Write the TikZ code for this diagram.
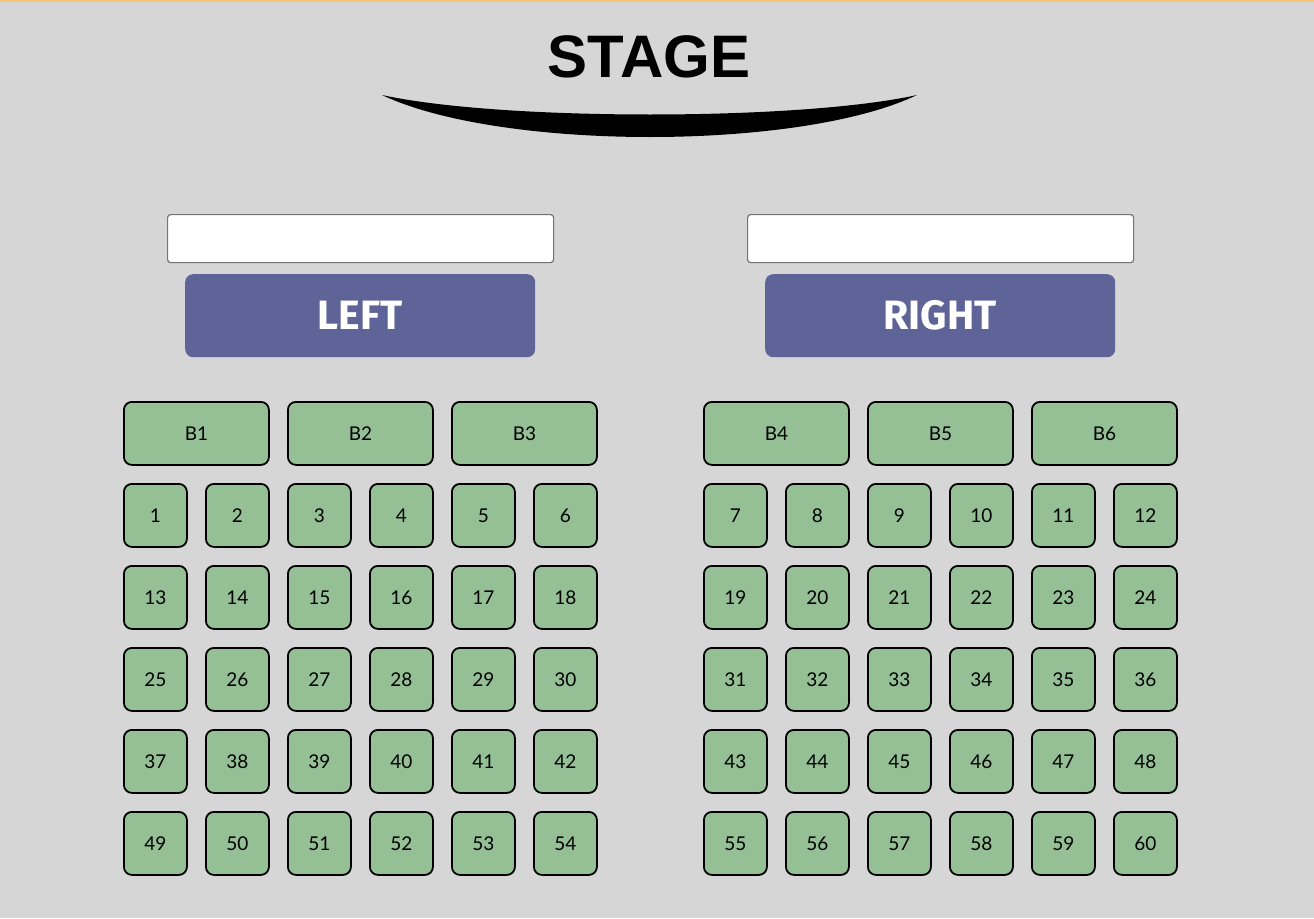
\documentclass[tikz,border=0pt]{standalone}
\usepackage{fontspec}
\setmainfont{Fira Sans}
\newfontfamily\stagefont{Liberation Sans}
\newfontfamily\seatfont{Lato}
\definecolor{bg}{HTML}{D6D6D6}
\definecolor{seatgreen}{HTML}{95C096}
\definecolor{btnblue}{HTML}{5E6497}
\definecolor{topline}{HTML}{F5C57A}
\begin{document}
\begin{tikzpicture}[x=1pt,y=-1pt,
  seat/.style={draw=black,line width=1.8pt,fill=seatgreen,rounded corners=8pt,
    minimum width=63pt,minimum height=63pt,inner sep=0pt,anchor=north west,
    font=\seatfont\fontsize{19}{21}\selectfont},
  box/.style={seat,minimum width=145pt},
  inbox/.style={draw=black!55,line width=1.2pt,fill=white,rounded corners=3pt,
    minimum width=386pt,minimum height=48pt,inner sep=0pt,anchor=north west},
  btn/.style={fill=btnblue,rounded corners=8pt,minimum width=350pt,minimum height=83pt,
    inner sep=0pt,anchor=north west,text=white,font=\fontsize{41}{43}\selectfont\bfseries}
]
\fill[bg] (0,0) rectangle (1314,918);
\useasboundingbox (0,0) rectangle (1314,918);
\fill[topline] (0,0) rectangle (1314,1.5);
% stage
\node[font=\stagefont\fontsize{60}{62}\selectfont\bfseries] (stage) at (649,57) {STAGE};
\fill[black] (382,95) .. controls (500,121) and (800,121) .. (917,95)
  .. controls (800,151) and (500,151) .. (382,95) -- cycle;
% inputs and buttons
\node[inbox] (inL) at (167,214) {};
\node[inbox] (inR) at (747,214) {};
\node[btn] (left) at (185,274) {LEFT};
\node[btn] (right) at (765,274) {RIGHT};
% boxes
\node[box] (B1) at (123,401) {B1};
\node[box] (B2) at (287,401) {B2};
\node[box] (B3) at (451,401) {B3};
\node[box] (B4) at (703,401) {B4};
\node[box] (B5) at (867,401) {B5};
\node[box] (B6) at (1031,401) {B6};
% seats
\foreach \r in {0,...,4}{
  \foreach \c in {0,...,5}{
    \pgfmathtruncatemacro{\nl}{\r*12+\c+1}
    \pgfmathtruncatemacro{\nr}{\r*12+\c+7}
    \node[seat] (s\nl) at (123+82*\c,483+82*\r) {\nl};
    \node[seat] (s\nr) at (703+82*\c,483+82*\r) {\nr};
  }
}
\end{tikzpicture}
\end{document}
